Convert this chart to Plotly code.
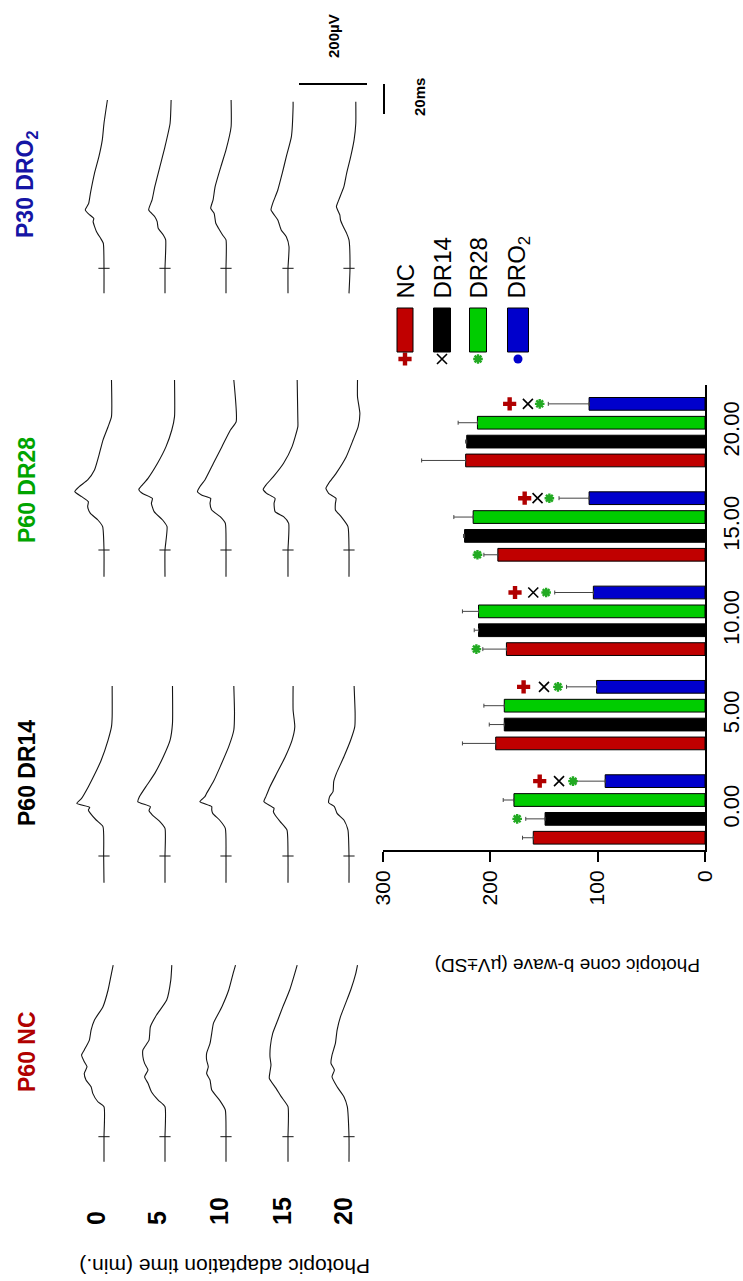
import plotly.graph_objects as go

W, H = 743, 1281
FONT = "Liberation Sans, Arial, sans-serif"


def PX(x):
    return x / W


def PY(y):
    return 1 - y / H


# ---------------- bar chart data (uV +/- SD) ----------------
times = ["0.00", "5.00", "10.00", "15.00", "20.00"]
group_names = ["NC", "DR14", "DR28", "DRO2"]
nc_mean = [160, 195, 185, 193, 223]
nc_sd = [10, 31, 22, 13, 41]
dr14_mean = [149, 187, 211, 224, 222]
dr14_sd = [18, 14, 4, 1, 1]
dr28_mean = [178, 187, 211, 216, 212]
dr28_sd = [10, 19, 15, 18, 18]
dro2_mean = [93, 101, 104, 108, 108]
dro2_sd = [27, 28, 36, 28, 38]

# significance symbols (value position) next to DRO2 bars
sig_plus_dro2 = [154, 169, 177, 168, 182]
sig_x_dro2 = [136, 150, 160, 156, 165]
sig_ast_dro2 = [123, 137, 148, 145, 154]
# green asterisks next to other bars
sig_ast_other_time = [0, 2, 3]
sig_ast_other_group = [1, 0, 0]
sig_ast_other_val = [175, 213, 212]

# ---------------- ERG traces: time (ms) and amplitude (uV) ----------------
erg_labels = ["0", "5", "10", "15", "20"]
dro2_t = [
    [-16.7, 0, 16.7, 20, 24.4, 31.1, 33.3, 35.6, 38.9, 43.3, 50, 63.3, 74.4, 85.6, 96.7, 112.2],
    [-16.7, 0, 18.9, 22.2, 26.7, 31.1, 34.4, 38.9, 45.6, 54.4, 67.8, 81.1, 96.7, 112.2],
    [-16.7, 0, 18.9, 22.2, 26.7, 30, 36.7, 40, 45.6, 54.4, 67.8, 78.9, 94.4, 112.2],
    [-16.7, 0, 14.4, 21.1, 25.6, 32.2, 38.9, 43.3, 52.2, 63.3, 74.4, 87.8, 107.8, 111.1],
    [-16.7, 0, 18.9, 23.3, 27.8, 32.2, 35.6, 41.1, 45.6, 54.4, 63.3, 74.4, 85.6, 96.7, 111.1],
]
dro2_uv = [
    [0, 0, 2, 10, 22, 32, 30, 42, 55, 45, 40, 28, 15, 5, 0, -10],
    [0, 0, -2, 5, 20, 23, 30, 48, 38, 30, 15, 0, -15, -18],
    [0, 0, 0, 10, 22, 30, 35, 45, 38, 32, 15, 0, -15, -15],
    [0, 0, -3, 5, 20, 30, 50, 45, 30, 17, 5, -10, -15, -15],
    [0, -3, 0, 7, 17, 25, 27, 37, 30, 15, 7, -5, -15, -20, -20],
]
dr28_t = [
    [-17.8, 0, 15.6, 20, 24.4, 28.9, 32.2, 35.6, 38.9, 42.2, 46.7, 53.3, 62.2, 73.3, 82.2, 88.9, 113.3],
    [-17.8, 0, 15.6, 20, 25.6, 31.1, 34.4, 37.8, 40.4, 43.3, 47.8, 57.8, 68.9, 80, 88.9, 113.3],
    [-17.8, 0, 17.8, 22.2, 26.7, 31.1, 34.4, 36.7, 38.9, 42.2, 46.7, 57.8, 68.9, 80, 85.6, 113.3],
    [-17.8, 0, 17.8, 22.2, 25.6, 31.1, 34.4, 37.8, 40.4, 43.3, 48.9, 57.8, 68.9, 82.2, 86.7, 113.3],
    [-17.8, 0, 15.6, 22.2, 26.7, 31.1, 34.4, 37.8, 41.1, 44.4, 51.1, 62.2, 73.3, 82.2, 91.1, 102.2, 113.3],
]
dr28_uv = [
    [0, 0, 4, 18, 40, 48, 46, 66, 86, 73, 48, 28, 16, 3, -12, -22, -22],
    [0, 0, -6, 7, 32, 40, 37, 67, 77, 67, 50, 22, -3, -20, -28, -28],
    [0, 0, 2, 17, 42, 47, 45, 72, 84, 77, 62, 37, 12, -13, -30, -23],
    [0, 0, -2, 13, 38, 41, 38, 63, 73, 65, 43, 13, -12, -29, -29, -27],
    [0, 0, 3, 23, 40, 40, 38, 60, 68, 60, 38, 8, -12, -27, -32, -25, -25],
]
dr14_t = [
    [-17.8, 0, 19.6, 24, 28.4, 30.7, 32.4, 35.1, 38.4, 46.2, 55.1, 64, 77.3, 86.2, 92.9, 113.3],
    [-17.8, 0, 18.4, 22.9, 27.3, 30.2, 32.9, 36.2, 39.6, 47.3, 55.1, 66.2, 77.3, 88.4, 113.3],
    [-17.8, 0, 18.4, 24, 28.4, 30.7, 32.9, 36.2, 39.6, 41.8, 49.6, 59.6, 72.9, 84, 95.1, 113.3],
    [-17.8, 0, 17.3, 22.9, 27.3, 29.6, 31.8, 36.2, 39.6, 46.2, 55.1, 66.2, 77.3, 86.2, 97.3, 113.3],
    [-17.8, 0, 17.3, 24, 28.4, 32.9, 35.6, 39.6, 42.9, 49.6, 55.1, 66.2, 77.3, 86.2, 95.1, 113.3],
]
dr14_uv = [
    [0, 1, 3, 23, 40, 46, 42, 80, 66, 46, 26, 8, -12, -22, -24, -24],
    [0, 0, 0, 15, 37, 47, 43, 80, 75, 53, 30, 5, -15, -22, -22],
    [0, 0, 2, 19, 39, 42, 42, 77, 62, 57, 37, 17, -8, -23, -25, -23],
    [0, 0, 3, 23, 38, 43, 41, 71, 65, 53, 33, 8, -12, -20, -15, -15],
    [0, 0, 3, 15, 35, 43, 60, 57, 47, 45, 37, 15, -5, -17, -18, -15],
]
nc_t = [
    [-16.7, 0, 20, 23.3, 28.9, 33.3, 37.8, 42.2, 46.7, 50, 54.4, 57.8, 64.4, 71.1, 77.8, 86.7, 97.8, 108.9, 114.4],
    [-16.7, 0, 20, 24.4, 30, 35.6, 40, 44.4, 48.9, 53.3, 57.8, 64.4, 73.3, 81.1, 91.1, 104.4, 114.4],
    [-16.7, 0, 17.8, 24.4, 31.1, 37.8, 42.2, 46.7, 51.1, 55.6, 62.2, 68.9, 75.6, 86.7, 97.8, 108.9, 114.4],
    [-16.7, 0, 20, 26.7, 32.2, 38.9, 43.3, 47.8, 53.3, 60, 68.9, 77.8, 86.7, 97.8, 108.9, 114.4],
    [-16.7, 0, 20, 26.7, 33.3, 40, 44.4, 48.9, 54.4, 62.2, 71.1, 80, 88.9, 97.8, 108.9, 114.4],
]
nc_uv = [
    [0, 0, 0, 18, 33, 38, 53, 58, 50, 58, 66, 58, 43, 38, 28, 3, -12, -22, -27],
    [0, 0, 0, 20, 40, 50, 60, 50, 60, 65, 65, 47, 43, 25, -5, -17, -20],
    [0, 0, 2, 19, 42, 47, 57, 52, 57, 57, 47, 42, 37, 12, -8, -21, -28],
    [0, 0, 0, 20, 35, 55, 53, 50, 53, 52, 45, 30, 15, -5, -20, -27],
    [0, 0, 5, 15, 35, 50, 43, 53, 50, 40, 35, 25, 10, -5, -20, -25],
]

# ---------------- layout constants ----------------
UV_PER_PX = 200 / 68.0     # scale bar: 200 uV
PX_PER_MS = 1.5            # scale bar: 20 ms
XL = W * UV_PER_PX
COL_PX = [104, 165, 226, 288, 349]
panels = [  # (t, uv, stimulus row px, title, colour, title centre px)
    (dro2_t, dro2_uv, 268.3, "P30 DRO<sub>2</sub>", "#1515a5", 185),
    (dr28_t, dr28_uv, 550.0, "P60 DR28", "#00a400", 490),
    (dr14_t, dr14_uv, 856.0, "P60 DR14", "#000000", 773),
    (nc_t, nc_uv, 1136.7, "P60 NC", "#b00000", 1052),
]
PAD_TOP, PAD_BOT = 210, 40


def ann(x, y, text, size, angle=-90, color="black", xanchor="center", yanchor="middle", bold=False):
    return dict(x=PX(x), y=PY(y), xref="paper", yref="paper",
                text=("<b>%s</b>" % text) if bold else text, textangle=angle,
                showarrow=False, xanchor=xanchor, yanchor=yanchor,
                font=dict(size=size, color=color, family=FONT))


fig = go.Figure()
layout = dict(
    width=W, height=H, margin=dict(l=0, r=0, t=0, b=0),
    paper_bgcolor="white", plot_bgcolor="rgba(0,0,0,0)",
    showlegend=False, barmode="overlay",
    font=dict(family=FONT, color="black"),
)

# ERG shared x axis (uV, positive to the left)
layout["xaxis2"] = dict(domain=[0, 1], range=[XL, 0], anchor="y2", visible=False)
annotations = []
for i, (tt, uu, mrow, title, col, tcy) in enumerate(panels):
    yname = "y%d" % (i + 2)
    layout["yaxis%d" % (i + 2)] = dict(
        domain=[PY(mrow + PAD_BOT), PY(mrow - PAD_TOP)],
        range=[-PAD_BOT / PX_PER_MS, PAD_TOP / PX_PER_MS],
        anchor="x2", visible=False,
    )
    for c in range(5):
        off = (W - COL_PX[c]) * UV_PER_PX
        fig.add_trace(go.Scatter(
            x=[off + a for a in uu[c]], y=tt[c], xaxis="x2", yaxis=yname,
            mode="lines", line=dict(color="#151515", width=1.1, shape="spline", smoothing=0.5),
            hoverinfo="skip"))
        fig.add_trace(go.Scatter(
            x=[off], y=[0], xaxis="x2", yaxis=yname, mode="markers",
            marker=dict(symbol="line-ew", size=8, line=dict(width=1, color="#151515")),
            hoverinfo="skip"))
    annotations.append(ann(27, tcy, title, 23, color=col, bold=True))

# scale bars on the top panel axis
t_bar = (268.3 - 84) / PX_PER_MS
x_bar = (W - 367) * UV_PER_PX
fig.add_trace(go.Scatter(x=[x_bar, x_bar + 200], y=[t_bar, t_bar], xaxis="x2", yaxis="y2",
                         mode="lines", line=dict(color="black", width=2), hoverinfo="skip"))
x_ms = (W - 384) * UV_PER_PX
fig.add_trace(go.Scatter(x=[x_ms, x_ms], y=[t_bar, t_bar - 20], xaxis="x2", yaxis="y2",
                         mode="lines", line=dict(color="black", width=2), hoverinfo="skip"))
annotations.append(ann(333, 36, "200µV", 15, bold=True))
annotations.append(ann(420, 97, "20ms", 15, bold=True))

# time labels and axis title for ERG
lab_x = [96, 157, 219, 282, 343]
for lx, lab in zip(lab_x, erg_labels):
    annotations.append(ann(lx, 1227, lab, 25, yanchor="bottom", bold=True))
annotations.append(ann(225, 1267, "Photopic adaptation time (min.)", 21, angle=180))

# ---------------- bar chart ----------------
PITCH = 0.2
BAR_W = 0.135
means = [nc_mean, dr14_mean, dr28_mean, dro2_mean]
sds = [nc_sd, dr14_sd, dr28_sd, dro2_sd]
colors = ["#c00000", "#000000", "#00cc00", "#0000cc"]
for k in range(4):
    pos = [i + (k - 1.5) * PITCH for i in range(len(times))]
    fig.add_trace(go.Bar(
        x=means[k], y=pos, orientation="h", width=BAR_W, name=group_names[k],
        marker=dict(color=colors[k], line=dict(color="black", width=1)),
        error_x=dict(type="data", array=sds[k], arrayminus=[0] * len(times), symmetric=False,
                     color="#444444", thickness=1, width=2),
        xaxis="x", yaxis="y"))

blue_pos = [i + 1.5 * PITCH for i in range(len(times))]
fig.add_trace(go.Scatter(x=sig_plus_dro2, y=blue_pos, mode="markers", cliponaxis=False,
                         marker=dict(symbol="cross", size=11, color="#b00000", line=dict(width=0)),
                         xaxis="x", yaxis="y"))
fig.add_trace(go.Scatter(x=sig_x_dro2, y=blue_pos, mode="markers", cliponaxis=False,
                         marker=dict(symbol="x-thin", size=10, line=dict(color="black", width=1.6)),
                         xaxis="x", yaxis="y"))
fig.add_trace(go.Scatter(x=sig_ast_dro2, y=blue_pos, mode="markers", cliponaxis=False,
                         marker=dict(symbol="asterisk", size=8, line=dict(color="#22aa22", width=2.4)),
                         xaxis="x", yaxis="y"))
fig.add_trace(go.Scatter(
    x=sig_ast_other_val,
    y=[t + (g - 1.5) * PITCH for t, g in zip(sig_ast_other_time, sig_ast_other_group)],
    mode="markers", cliponaxis=False,
    marker=dict(symbol="asterisk", size=8, line=dict(color="#22aa22", width=2.4)),
    xaxis="x", yaxis="y"))

layout["xaxis"] = dict(
    domain=[PX(383), PX(705)], range=[300, 0], anchor="y", side="bottom",
    showline=True, linewidth=2, linecolor="black", ticks="outside", ticklen=10, tickwidth=2,
    tickcolor="black", tickvals=[0, 100, 200, 300], tickangle=-90, tickfont=dict(size=21),
    showgrid=False, zeroline=False, automargin=False)
layout["yaxis"] = dict(
    domain=[PY(850), PY(385)], range=[-0.43, 4.5], anchor="x", side="right",
    showline=True, linewidth=2, linecolor="black", ticks="", tickvals=list(range(len(times))),
    ticktext=times, tickangle=-90, tickfont=dict(size=22), ticklabelstandoff=6,
    showgrid=False, zeroline=False, automargin=False)

annotations.append(ann(568, 965, "Photopic cone b-wave (µV±SD)", 19, angle=180))

# ---------------- legend (rotated) ----------------
shapes = []
leg_x = [405, 442, 478, 518]
leg_w = [16, 17, 17, 21]
leg_text = ["NC", "DR14", "DR28", "DRO<sub>2</sub>"]
for k in range(4):
    shapes.append(dict(type="rect", xref="paper", yref="paper",
                       x0=PX(leg_x[k] - leg_w[k] / 2), x1=PX(leg_x[k] + leg_w[k] / 2),
                       y0=PY(352), y1=PY(308), fillcolor=colors[k],
                       line=dict(color="black", width=1)))
    annotations.append(ann(leg_x[k], 301, leg_text[k], 24, yanchor="bottom"))

layout["xaxis3"] = dict(domain=[0, 1], range=[0, W], anchor="y6", visible=False)
layout["yaxis6"] = dict(domain=[0, 1], range=[H, 0], anchor="x3", visible=False)
leg_sym = [
    dict(symbol="cross", size=11, color="#b00000", line=dict(width=0)),
    dict(symbol="x-thin", size=10, line=dict(color="black", width=1.6)),
    dict(symbol="asterisk", size=8, line=dict(color="#22aa22", width=2.4)),
    dict(symbol="circle", size=9, color="#0000cc", line=dict(width=0)),
]
for k in range(4):
    fig.add_trace(go.Scatter(x=[leg_x[k]], y=[359], mode="markers", marker=leg_sym[k],
                             xaxis="x3", yaxis="y6", hoverinfo="skip"))

layout["annotations"] = annotations
layout["shapes"] = shapes
fig.update_layout(**layout)
fig.write_html("out.html")
